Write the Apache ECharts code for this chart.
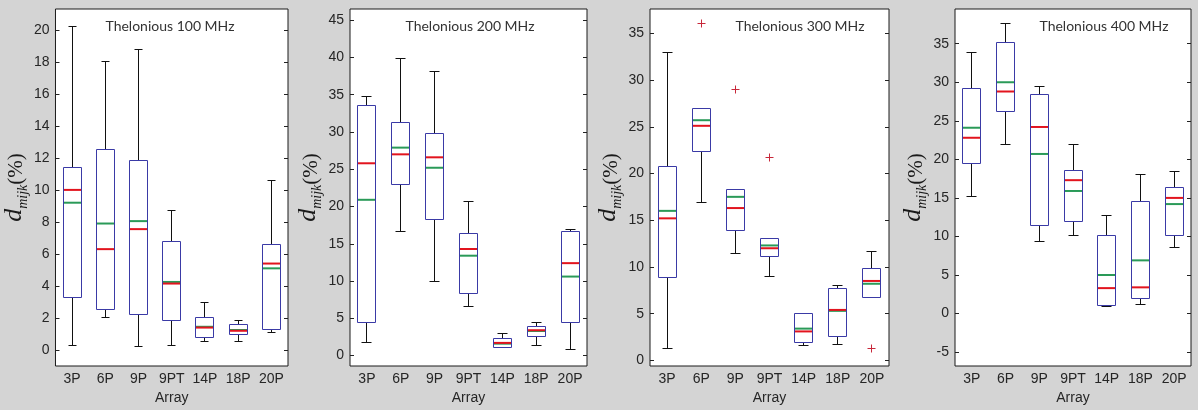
<!DOCTYPE html>
<html>
<head>
<meta charset="utf-8">
<script src="https://cdn.jsdelivr.net/npm/echarts@6/dist/echarts.min.js"></script>
<style>
  html, body { margin: 0; padding: 0; background: #d4d4d4; }
  #draw { width: 1198px; height: 410px; }
</style>
</head>
<body>
<div id="draw"></div>
<script>
  // categories on every panel
  var categories = ['3P', '6P', '9P', '9PT', '14P', '18P', '20P']
  var titles = ['Thelonious 100 MHz', 'Thelonious 200 MHz', 'Thelonious 300 MHz', 'Thelonious 400 MHz']

  // box stats per array: [lower whisker, q1, median, q3, upper whisker]
  var box100 = [
    [0.25, 3.3, 10.0, 11.4, 20.2],
    [2.05, 2.5, 6.3, 12.5, 18.0],
    [0.2, 2.2, 7.55, 11.85, 18.8],
    [0.25, 1.85, 4.15, 6.75, 8.7],
    [0.5, 0.75, 1.4, 2.0, 2.95],
    [0.5, 0.95, 1.2, 1.6, 1.85],
    [1.1, 1.3, 5.4, 6.6, 10.6]
  ]
  var box200 = [
    [1.7, 4.5, 25.8, 33.5, 34.7],
    [16.6, 23.0, 27.0, 31.3, 39.9],
    [9.9, 18.3, 26.6, 29.8, 38.1],
    [6.6, 8.3, 14.3, 16.4, 20.7],
    [1.1, 1.1, 1.7, 2.3, 2.9],
    [1.3, 2.6, 3.4, 3.9, 4.5],
    [0.8, 4.4, 12.4, 16.6, 16.9]
  ]
  var box300 = [
    [1.3, 8.9, 15.2, 20.8, 32.9],
    [16.9, 22.4, 25.1, 27.0, 27.0],
    [11.4, 13.9, 16.3, 18.3, 18.3],
    [9.0, 11.1, 12.0, 13.0, 13.0],
    [1.6, 1.9, 3.1, 5.0, 5.0],
    [1.7, 2.6, 5.4, 7.7, 8.0],
    [6.7, 6.7, 8.5, 9.8, 11.6]
  ]
  var box400 = [
    [15.2, 19.4, 22.8, 29.2, 33.8],
    [21.9, 26.2, 28.8, 35.1, 37.6],
    [9.3, 11.4, 24.2, 28.4, 29.4],
    [10.1, 12.0, 17.3, 18.6, 21.9],
    [0.9, 1.0, 3.3, 10.1, 12.7],
    [1.2, 1.9, 3.4, 14.5, 18.1],
    [8.6, 10.1, 15.0, 16.4, 18.4]
  ]
  // means (green lines)
  var mean100 = [9.2, 7.9, 8.05, 4.25, 1.45, 1.25, 5.1]
  var mean200 = [20.9, 27.9, 25.2, 13.4, 1.6, 3.3, 10.6]
  var mean300 = [16.0, 25.7, 17.5, 12.3, 3.4, 5.3, 8.2]
  var mean400 = [24.1, 30.0, 20.7, 15.9, 5.0, 6.9, 14.2]
  // outliers: [category index, value]
  var outliers300 = [[1, 36.0], [2, 29.0], [3, 21.7], [6, 1.3]]

  // y axis ranges and tick labels
  var yMin = [-1.0, -1.4, -0.6, -6.8]
  var yMax = [21.3, 46.5, 37.6, 39.5]
  var yTicks = [
    [0, 2, 4, 6, 8, 10, 12, 14, 16, 18, 20],
    [0, 5, 10, 15, 20, 25, 30, 35, 40, 45],
    [0, 5, 10, 15, 20, 25, 30, 35],
    [-5, 0, 5, 10, 15, 20, 25, 30, 35]
  ]

  var boxes = [box100, box200, box300, box400]
  var means = [mean100, mean200, mean300, mean400]

  var gridPos = [
    { left: 52, width: 236 },
    { left: 350, width: 237 },
    { left: 650, width: 239 },
    { left: 955, width: 236 }
  ]
  var titleX = [170, 470, 800, 1104]

  function px (v) { return Math.round(v - 0.5) + 0.5 }

  function renderBox (params, api) {
    var i = api.value(0)
    var band = api.size([1, 0])[0]
    var bw = band * 0.53
    var cw = band * 0.27
    var x = px(api.coord([i, 0])[0])
    var y = function (k) { return api.coord([i, api.value(k)])[1] }
    var yLow = px(y(1)), yQ1 = px(y(2)), yMed = y(3), yQ3 = px(y(4)), yHigh = px(y(5)), yMean = y(6)
    var l = px(x - bw / 2), r = px(x + bw / 2)
    var black = { stroke: '#111', lineWidth: 1 }
    return {
      type: 'group',
      children: [
        { type: 'line', shape: { x1: x, y1: yLow, x2: x, y2: yQ1 }, style: black },
        { type: 'line', shape: { x1: x, y1: yQ3, x2: x, y2: yHigh }, style: black },
        { type: 'line', shape: { x1: px(x - cw / 2), y1: yLow, x2: px(x + cw / 2), y2: yLow }, style: black },
        { type: 'line', shape: { x1: px(x - cw / 2), y1: yHigh, x2: px(x + cw / 2), y2: yHigh }, style: black },
        { type: 'rect', shape: { x: l, y: yQ3, width: r - l, height: yQ1 - yQ3 }, style: { fill: '#fff', stroke: '#3a3aa6', lineWidth: 1 } },
        { type: 'line', shape: { x1: l + 0.5, y1: yMean, x2: r - 0.5, y2: yMean }, style: { stroke: '#2a9a58', lineWidth: 2 } },
        { type: 'line', shape: { x1: l + 0.5, y1: yMed, x2: r - 0.5, y2: yMed }, style: { stroke: '#e2141e', lineWidth: 2 } }
      ]
    }
  }

  // red '+' marks for outliers
  function renderPlus (params, api) {
    var p = api.coord([api.value(0), api.value(1)])
    var x = px(p[0]), y = px(p[1])
    var st = { stroke: '#c8283a', lineWidth: 1 }
    return {
      type: 'group',
      children: [
        { type: 'line', shape: { x1: x - 4, y1: y, x2: x + 4, y2: y }, style: st },
        { type: 'line', shape: { x1: x, y1: y - 4, x2: x, y2: y + 4 }, style: st }
      ]
    }
  }

  var grids = [], xAxes = [], yAxes = [], series = [], graphics = []
  for (var g = 0; g < 4; g++) {
    grids.push({
      left: gridPos[g].left, width: gridPos[g].width, top: 9, height: 357,
      show: true, backgroundColor: '#fff', borderColor: '#1a1a1a', borderWidth: 1
    })
    xAxes.push({
      type: 'category', gridIndex: g, data: categories, boundaryGap: true,
      axisLine: { show: false }, axisTick: { show: false },
      axisLabel: { interval: 0, margin: 6, fontSize: 14, color: '#262626', fontFamily: 'Liberation Sans' },
      name: 'Array', nameLocation: 'middle', nameGap: 24,
      nameTextStyle: { fontSize: 14, color: '#262626', fontFamily: 'Liberation Sans' }
    })
    yAxes.push({
      type: 'value', gridIndex: g, min: yMin[g], max: yMax[g], position: 'left',
      axisLine: { show: false }, splitLine: { show: false },
      axisTick: { show: true, inside: true, length: 4, customValues: yTicks[g], lineStyle: { color: '#222' } },
      axisLabel: { margin: 6, fontSize: 14, color: '#262626', fontFamily: 'Liberation Sans', customValues: yTicks[g] },
      name: '{d|d}{s|mijk}{p|(%)}', nameLocation: 'middle', nameGap: 27,
      nameTextStyle: {
        rich: {
          d: { fontFamily: 'Liberation Serif', fontStyle: 'italic', fontSize: 26, color: '#1a1a1a', verticalAlign: 'bottom' },
          s: { fontFamily: 'Liberation Serif', fontStyle: 'italic', fontSize: 14, color: '#1a1a1a', verticalAlign: 'bottom', padding: [0, 0, -3, 0] },
          p: { fontFamily: 'Liberation Serif', fontSize: 21, color: '#1a1a1a', verticalAlign: 'bottom' }
        }
      }
    })
    yAxes.push({
      type: 'value', gridIndex: g, min: yMin[g], max: yMax[g], position: 'right',
      axisLine: { show: false }, splitLine: { show: false },
      axisTick: { show: true, inside: true, length: 4, customValues: yTicks[g], lineStyle: { color: '#222' } },
      axisLabel: { show: false }
    })
    var data = []
    for (var i = 0; i < categories.length; i++) {
      data.push([i].concat(boxes[g][i]).concat([means[g][i]]))
    }
    series.push({
      type: 'custom', xAxisIndex: g, yAxisIndex: g * 2,
      renderItem: renderBox, encode: { x: 0, y: [1, 2, 3, 4, 5, 6] },
      data: data, silent: true
    })
    graphics.push({
      type: 'text', x: titleX[g], y: 26,
      style: { text: titles[g], font: '14px Lato', fill: '#333', align: 'center', verticalAlign: 'middle' }
    })
  }
  series.push({
    type: 'custom', xAxisIndex: 2, yAxisIndex: 4, data: outliers300,
    renderItem: renderPlus, encode: { x: 0, y: 1 }, silent: true
  })

  var myChart = echarts.init(document.getElementById('draw'))
  myChart.setOption({
    backgroundColor: '#d4d4d4',
    animation: false,
    grid: grids,
    xAxis: xAxes,
    yAxis: yAxes,
    series: series,
    graphic: graphics
  })
</script>
</body>
</html>
